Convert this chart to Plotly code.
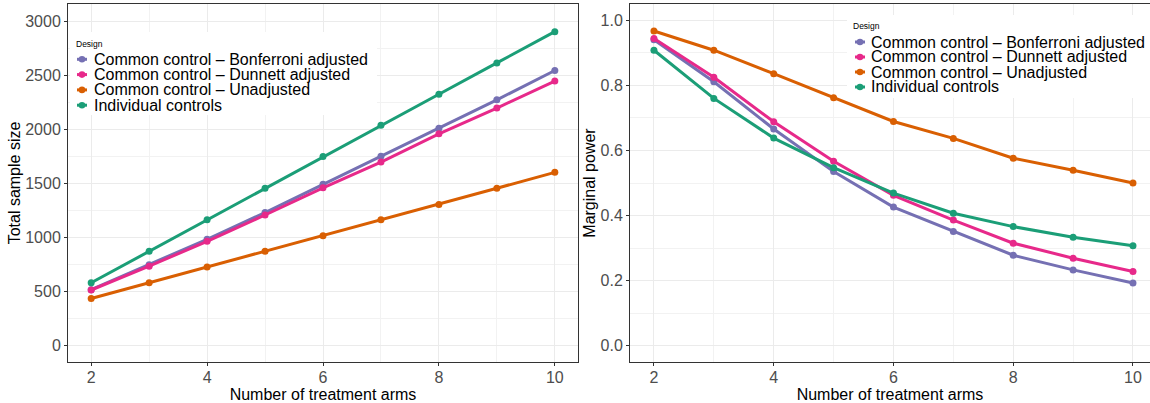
import plotly.graph_objects as go

# ---------------- data ----------------
arms = [2, 3, 4, 5, 6, 7, 8, 9, 10]
designs = [
    "Common control – Bonferroni adjusted",
    "Common control – Dunnett adjusted",
    "Common control – Unadjusted",
    "Individual controls",
]
colors = ["#7570B3", "#E7298A", "#D95F02", "#1B9E77"]

size_bonferroni = [518, 748, 985, 1233, 1495, 1755, 2013, 2277, 2549]
size_dunnett = [515, 736, 966, 1210, 1462, 1700, 1962, 2201, 2451]
size_unadjusted = [437, 582, 729, 874, 1017, 1165, 1308, 1458, 1605]
size_individual = [582, 874, 1166, 1458, 1752, 2041, 2329, 2619, 2909]

power_bonferroni = [0.940, 0.811, 0.666, 0.535, 0.426, 0.351, 0.278, 0.233, 0.193]
power_dunnett = [0.944, 0.825, 0.688, 0.567, 0.462, 0.386, 0.315, 0.269, 0.228]
power_unadjusted = [0.967, 0.908, 0.836, 0.762, 0.689, 0.637, 0.576, 0.539, 0.500]
power_individual = [0.908, 0.760, 0.638, 0.547, 0.469, 0.407, 0.366, 0.333, 0.307]

x_ticks = [2, 4, 6, 8, 10]
size_ticks = [0, 500, 1000, 1500, 2000, 2500, 3000]
power_ticks = [0.0, 0.2, 0.4, 0.6, 0.8, 1.0]

size_series = [size_bonferroni, size_dunnett, size_unadjusted, size_individual]
power_series = [power_bonferroni, power_dunnett, power_unadjusted, power_individual]

# ---------------- figure ----------------
W, H = 1150, 403
MT, MB = 4, 41
PLOT_H = H - MT - MB
FONT = "Liberation Sans, Arial, Helvetica, sans-serif"


def px_x(p):
    return p / W


def px_y(p):
    return (H - MB - p) / PLOT_H


fig = go.Figure()

for name, col, ys in zip(designs, colors, size_series):
    fig.add_trace(go.Scatter(
        x=arms, y=ys, name=name, mode="lines+markers",
        line=dict(color=col, width=3), marker=dict(color=col, size=7),
        xaxis="x", yaxis="y", showlegend=False,
    ))

for name, col, ys in zip(designs, colors, power_series):
    fig.add_trace(go.Scatter(
        x=arms, y=ys, name=name, mode="lines+markers",
        line=dict(color=col, width=3), marker=dict(color=col, size=7),
        xaxis="x2", yaxis="y2", showlegend=False,
    ))

grid = "#EBEBEB"
minor_grid = "#F2F2F2"
axis_common = dict(
    showline=True, linecolor="#333333", linewidth=1,
    ticks="outside", ticklen=3, tickcolor="#333333", tickwidth=1,
    tickfont=dict(size=16, color="#4D4D4D", family=FONT),
    showgrid=True, gridcolor=grid, gridwidth=1,
    zeroline=False,
)

fig.update_layout(
    width=W, height=H,
    margin=dict(l=0, r=0, t=MT, b=MB, pad=0),
    paper_bgcolor="white", plot_bgcolor="white",
    font=dict(family=FONT, size=16, color="black"),
    showlegend=False,
    xaxis=dict(
        axis_common, domain=[68 / W, 578 / W], range=[1.6, 10.4],
        tickmode="array", tickvals=x_ticks, mirror=True, ticklabelstandoff=-2,
        minor=dict(dtick=1, tick0=1, showgrid=True, gridcolor=minor_grid, gridwidth=1, ticks=""),
        title=dict(text="Number of treatment arms", font=dict(size=16, color="black"), standoff=0),
        anchor="y",
    ),
    yaxis=dict(
        axis_common, domain=[0, 1], range=[-152, 3165],
        tickmode="array", tickvals=size_ticks, mirror=True,
        minor=dict(dtick=250, tick0=0, showgrid=True, gridcolor=minor_grid, gridwidth=1, ticks=""),
        title=dict(text="Total sample size", font=dict(size=16, color="black"), standoff=0),
        anchor="x",
    ),
    xaxis2=dict(
        axis_common, domain=[630 / W, 1.0], range=[1.6, 10.284],
        tickmode="array", tickvals=x_ticks, mirror=True, ticklabelstandoff=-2,
        minor=dict(dtick=1, tick0=1, showgrid=True, gridcolor=minor_grid, gridwidth=1, ticks=""),
        title=dict(text="Number of treatment arms", font=dict(size=16, color="black"), standoff=0),
        anchor="y2",
    ),
    yaxis2=dict(
        axis_common, domain=[0, 1], range=[-0.05, 1.05],
        tickmode="array", tickvals=power_ticks, tickformat=".1f", mirror=False,
        minor=dict(dtick=0.1, tick0=0, showgrid=True, gridcolor=minor_grid, gridwidth=1, ticks=""),
        title=dict(text="Marginal power", font=dict(size=16, color="black"), standoff=0),
        anchor="x2",
    ),
)

# ---------------- legends (ggplot-style, drawn inside each panel) ----------------
shapes = []
annotations = []


def add_legend(box, title_xy, key_x, text_x, entry_ys):
    x0, y0, x1, y1 = box
    shapes.append(dict(type="rect", xref="paper", yref="paper",
                       x0=px_x(x0), x1=px_x(x1), y0=px_y(y1), y1=px_y(y0),
                       fillcolor="white", line=dict(width=0), layer="above"))
    annotations.append(dict(text="Design", xref="paper", yref="paper",
                            x=px_x(title_xy[0] - 1), y=px_y(title_xy[1]),
                            xanchor="left", yanchor="middle", showarrow=False,
                            font=dict(size=8.5, color="black", family=FONT)))
    for name, col, ey in zip(designs, colors, entry_ys):
        shapes.append(dict(type="line", xref="paper", yref="paper",
                           x0=px_x(key_x - 5), x1=px_x(key_x + 5), y0=px_y(ey), y1=px_y(ey),
                           line=dict(color=col, width=3), layer="above"))
        shapes.append(dict(type="circle", xref="paper", yref="paper",
                           x0=px_x(key_x - 3.3), x1=px_x(key_x + 3.3),
                           y0=px_y(ey + 3.3), y1=px_y(ey - 3.3),
                           fillcolor=col, line=dict(width=0), layer="above"))
        annotations.append(dict(text=name, xref="paper", yref="paper",
                                x=px_x(text_x - 1), y=px_y(ey),
                                xanchor="left", yanchor="middle", showarrow=False,
                                font=dict(size=16, color="black", family=FONT)))


add_legend((70, 32, 377, 115), (75, 44), 82, 93, [59.3, 74.6, 89.9, 105.2])
add_legend((847, 15, 1150, 98), (852, 26), 860, 870, [42, 57, 72, 87])

fig.update_layout(shapes=shapes, annotations=annotations)

fig.write_html(
    "out.html",
    config={"displayModeBar": False},
    post_script="document.body.style.margin='0';document.body.style.overflow='hidden';",
)
